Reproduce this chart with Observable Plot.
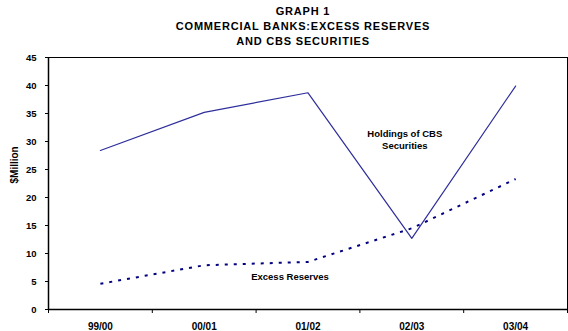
<!DOCTYPE html>
<html>
<head>
<meta charset="utf-8">
<script src="https://cdn.jsdelivr.net/npm/d3@7"></script>
<script src="https://cdn.jsdelivr.net/npm/@observablehq/plot@0.6"></script>
<style>
  body { margin: 0; background: #fff; font-family: "Liberation Sans", Arial, sans-serif; }
  #title {
    height: 50px; width: 568px; box-sizing: border-box;
    padding: 4px 0 0 38px; text-align: center;
    font-weight: bold; font-size: 11px; line-height: 15px; letter-spacing: 0.8px; color: #000;
  }
</style>
</head>
<body>
<div id="title">GRAPH 1<br>COMMERCIAL BANKS:EXCESS RESERVES<br>AND CBS SECURITIES</div>
<div id="chart"></div>
<script>
// Fiscal years on the category axis
const years = ["99/00", "00/01", "01/02", "02/03", "03/04"];
// $Million
const cbsHoldings = [28.4, 35.2, 38.7, 12.7, 39.9];
const excessReserves = [4.6, 7.9, 8.5, 14.5, 23.3];
// Value axis ticks
const yTicks = [0, 5, 10, 15, 20, 25, 30, 35, 40, 45];

// Series labels written inside the plot area
const seriesLabels = ["Holdings of CBS\nSecurities", "Excess Reserves"];
const labelYears = ["02/03", "01/02"];
const labelValues = [30.4, 6.0];
const labelShift = [-7, -18]; // horizontal nudge in pixels

const idx = years.map((d, i) => i);
const center = i => i + 0.5; // middle of each year's slot

const font = "Liberation Sans, Arial, sans-serif";

const chart = Plot.plot({
  width: 568,
  height: 281,
  marginTop: 7,
  marginBottom: 22,
  marginLeft: 48,
  marginRight: 1,
  style: { fontFamily: font, fontWeight: "bold", color: "#000", background: "#fff" },
  x: { type: "linear", domain: [0, years.length] },
  y: { domain: [0, 45] },
  marks: [
    Plot.frame({ stroke: "#000", strokeWidth: 1 }),
    Plot.axisY({ ticks: yTicks, tickSize: 3, tickPadding: 9, fontSize: 9.5, label: null, stroke: "#000" }),
    Plot.text(["$Million"], { frameAnchor: "left", rotate: -90, dx: -34, fontSize: 10, fontWeight: "bold", fill: "#000" }),
    // category boundaries
    Plot.axisX({ ticks: d3.range(years.length + 1), tickSize: 4, tickFormat: () => "", label: null, stroke: "#000" }),
    // category names at slot centres
    Plot.axisX({ ticks: idx.map(center), tickSize: 0, tickPadding: 13, fontSize: 10,
                 tickFormat: v => years[Math.floor(v)], label: null, style: { letterSpacing: "0.6px" } }),
    Plot.ruleY([0], { stroke: "#000", strokeWidth: 1.5 }),
    Plot.ruleX([0], { stroke: "#000", strokeWidth: 1.5 }),
    Plot.line(idx, { x: center, y: i => cbsHoldings[i], stroke: "#2e2e9c", strokeWidth: 1.2 }),
    Plot.line(idx, { x: center, y: i => excessReserves[i], stroke: "#000080", strokeWidth: 2,
                     strokeDasharray: "3,6", strokeLinecap: "butt" }),
    ...seriesLabels.map((label, i) => Plot.text([label], {
      x: center(years.indexOf(labelYears[i])),
      y: labelValues[i],
      dx: labelShift[i],
      fontSize: 9.5, fontWeight: "bold", fill: "#000", lineHeight: 1.25
    }))
  ]
});
document.getElementById("chart").appendChild(chart);
</script>
</body>
</html>
